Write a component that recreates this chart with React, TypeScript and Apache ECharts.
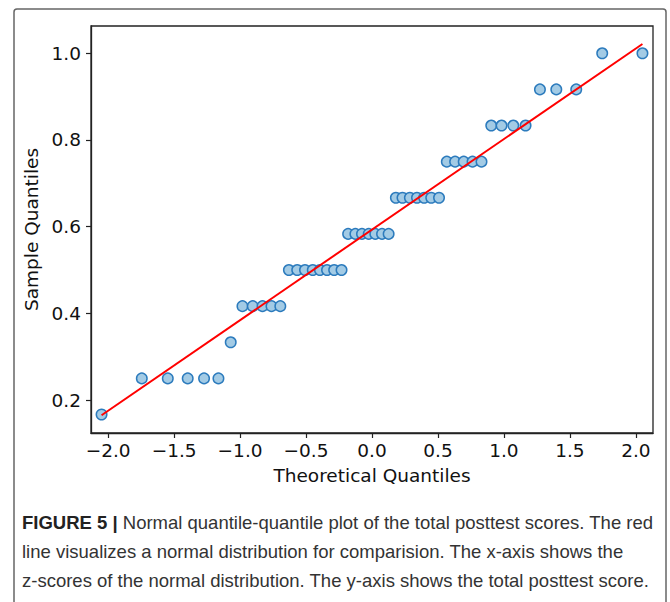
import React, { useEffect, useRef } from "react";
import * as echarts from "echarts";

// Theoretical quantiles (x)
const theoreticalQ: number[] = [
  -2.05, -1.745, -1.548, -1.397, -1.273, -1.164, -1.071, -0.982, -0.904, -0.83,
  -0.762, -0.695, -0.63, -0.567, -0.508, -0.449, -0.395, -0.341, -0.287, -0.231,
  -0.181, -0.126, -0.076, -0.025,
  0.025, 0.076, 0.126, 0.181, 0.231, 0.287, 0.341, 0.395, 0.449, 0.508,
  0.567, 0.63, 0.695, 0.762, 0.83, 0.904, 0.982, 1.071, 1.164, 1.273,
  1.397, 1.548, 1.745, 2.05,
];

// Sample quantiles (y)
const sampleQ: number[] = [
  0.1667,
  0.25, 0.25, 0.25, 0.25, 0.25,
  0.3333,
  0.4167, 0.4167, 0.4167, 0.4167, 0.4167,
  0.5, 0.5, 0.5, 0.5, 0.5, 0.5, 0.5, 0.5,
  0.5833, 0.5833, 0.5833, 0.5833, 0.5833, 0.5833, 0.5833,
  0.6667, 0.6667, 0.6667, 0.6667, 0.6667, 0.6667, 0.6667,
  0.75, 0.75, 0.75, 0.75, 0.75,
  0.8333, 0.8333, 0.8333, 0.8333,
  0.9167, 0.9167, 0.9167,
  1.0, 1.0,
];

// Reference (red) line end points
const refLineX: number[] = [-2.05, 2.05];
const refLineY: number[] = [0.165, 1.0215];

const xTicks: number[] = [-2.0, -1.5, -1.0, -0.5, 0.0, 0.5, 1.0, 1.5, 2.0];
const yTicks: number[] = [0.2, 0.4, 0.6, 0.8, 1.0];

const captionLines: string[] = [
  "Normal quantile-quantile plot of the total posttest scores. The red",
  "line visualizes a normal distribution for comparision. The x-axis shows the",
  "z-scores of the normal distribution. The y-axis shows the total posttest score.",
];

const fmt = (v: number) => v.toFixed(1).replace("-", "\u2212");

export default function App() {
  const ref = useRef<HTMLDivElement>(null);
  useEffect(() => {
    document.body.style.margin = "0";
    const chart = echarts.init(ref.current!, null, { renderer: "svg" });
    const axisFont = "DejaVu Sans";
    const capFont = "'Liberation Sans Narrow', 'Arial Narrow', 'Liberation Sans', sans-serif";
    const option: any = {
      animation: false,
      backgroundColor: "#ffffff",
      grid: {
        left: 91,
        top: 26,
        right: 17,
        bottom: 169,
        show: true,
        borderColor: "#222",
        borderWidth: 1.3,
        backgroundColor: "transparent",
      },
      xAxis: {
        type: "value",
        min: -2.13,
        max: 2.13,
        splitLine: { show: false },
        axisLine: { show: true, onZero: false, lineStyle: { color: "#222", width: 1.3 } },
        axisTick: {
          show: true,
          length: 5,
          customValues: xTicks,
          lineStyle: { color: "#222", width: 1.2 },
        },
        axisLabel: {
          customValues: xTicks,
          formatter: (v: number) => fmt(v),
          color: "#111",
          fontFamily: axisFont,
          fontSize: 18.5,
          margin: 8,
        },
        name: "Theoretical Quantiles",
        nameLocation: "middle",
        nameGap: 33,
        nameTextStyle: { color: "#111", fontFamily: axisFont, fontSize: 18.5 },
      },
      yAxis: {
        type: "value",
        min: 0.124,
        max: 1.063,
        splitLine: { show: false },
        axisLine: { show: true, onZero: false, lineStyle: { color: "#222", width: 1.3 } },
        axisTick: {
          show: true,
          length: 5,
          customValues: yTicks,
          lineStyle: { color: "#222", width: 1.2 },
        },
        axisLabel: {
          customValues: yTicks,
          formatter: (v: number) => fmt(v),
          color: "#111",
          fontFamily: axisFont,
          fontSize: 18.5,
          margin: 10,
        },
        name: "Sample Quantiles",
        nameLocation: "middle",
        nameGap: 49,
        nameTextStyle: { color: "#111", fontFamily: axisFont, fontSize: 18.5 },
      },
      series: [
        {
          type: "scatter",
          data: theoreticalQ.map((x, i) => [x, sampleQ[i]]),
          symbol: "circle",
          symbolSize: 10.5,
          itemStyle: {
            color: "#a3cbe5",
            borderColor: "#2c7bbd",
            borderWidth: 1.5,
            opacity: 1,
          },
          z: 2,
        },
        {
          type: "line",
          data: refLineX.map((x, i) => [x, refLineY[i]]),
          symbol: "none",
          lineStyle: { color: "#ff0000", width: 2 },
          z: 3,
        },
      ],
      graphic: [
        {
          type: "rect",
          shape: { x: 14, y: 9, width: 652, height: 640, r: 3 },
          style: { fill: "none", stroke: "#666", lineWidth: 1.5 },
          silent: true,
          z: -1,
        },
        {
          type: "text",
          left: 22,
          top: 513,
          style: {
            text: "{b|FIGURE 5 |} " + captionLines[0],
            fill: "#333",
            font: `18.5px ${capFont}`,
            rich: {
              b: { fontWeight: "bold", fill: "#222", fontSize: 18.5, fontFamily: capFont },
            },
          },
        },
        {
          type: "text",
          left: 22,
          top: 542,
          style: { text: captionLines[1], fill: "#333", font: `18.5px ${capFont}` },
        },
        {
          type: "text",
          left: 22,
          top: 571,
          style: { text: captionLines[2], fill: "#333", font: `18.5px ${capFont}` },
        },
      ],
    };
    chart.setOption(option);
    return () => chart.dispose();
  }, []);
  return (
    <div
      ref={ref}
      style={{ position: "absolute", left: 0, top: 0, width: 670, height: 602 }}
    />
  );
}
